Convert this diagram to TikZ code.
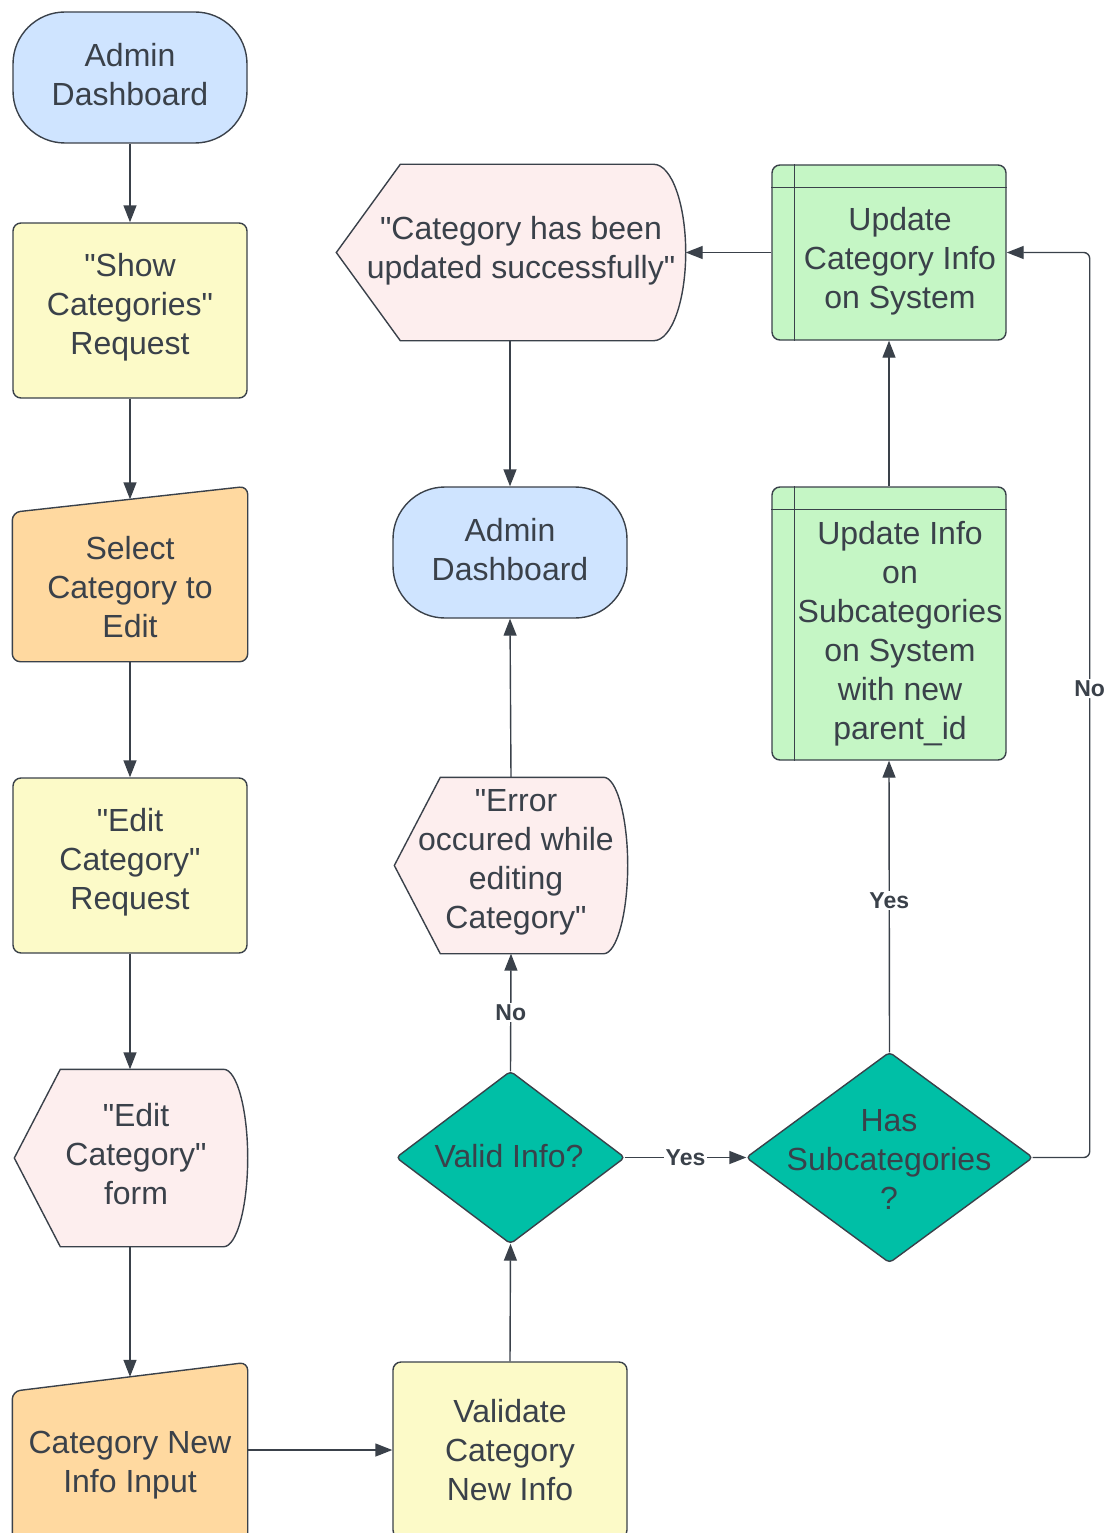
\documentclass[tikz,border=0pt]{standalone}
\usepackage{fontspec}
\setmainfont{Liberation Sans}[Ligatures=TeXOff]
\usetikzlibrary{arrows.meta}
\definecolor{ink}{HTML}{3A414A}
\definecolor{termblue}{HTML}{CFE4FF}
\definecolor{procyellow}{HTML}{FCFAC8}
\definecolor{inorange}{HTML}{FFD9A0}
\definecolor{disppink}{HTML}{FDEEEE}
\definecolor{storegreen}{HTML}{C5F6C5}
\definecolor{decteal}{HTML}{00BFA6}
\begin{document}
\begin{tikzpicture}[x=1pt,y=-1pt,
  line width=1.4pt,
  frame/.style={draw=none, inner sep=0, minimum width=#1},
  txt/.style={font=\fontsize{32}{39}\selectfont, text=ink, align=center, inner sep=0, yshift=-3pt},
  term/.style={draw=ink, fill=termblue, rounded corners=52, inner sep=0},
  proc/.style={draw=ink, fill=procyellow, rounded corners=8, inner sep=0},
  store/.style={draw=ink, fill=storegreen, rounded corners=8, inner sep=0},
  inshape/.style={draw=ink, fill=inorange, rounded corners=8},
  disp/.style={draw=ink, fill=disppink},
  dec/.style={draw=ink, fill=decteal, rounded corners=4},
  arr/.style={draw=ink, -{Triangle[length=17pt,width=13pt]}},
  lbl/.style={font=\bfseries\fontsize{23}{26}\selectfont, text=ink, fill=white, inner sep=1.5pt}
]
\useasboundingbox (0,0) rectangle (1111,1533);

% ---------- left column ----------
\node[term, minimum width=234, minimum height=131] (ad1) at (130,77.5) {};
\node[txt] (ad1t) at (130,71.5) {Admin\\Dashboard};

\node[proc, minimum width=234, minimum height=175] (show) at (130,310.5) {};
\node[txt] (showt) at (130,304) {"Show\\Categories"\\Request};

\node[frame=234, minimum height=161] (sel) at (130,580.5) {};
\draw[inshape] ([shift={(0,13)}]sel.north west) -- ([shift={(0,-13)}]sel.north east)
  -- (sel.south east) -- (sel.south west) -- cycle;
\node[txt] (selt) at (130,584.5) {Select\\Category to\\Edit};

\node[proc, minimum width=234, minimum height=175] (editreq) at (130,865.5) {};
\node[txt] (editreqt) at (130,859) {"Edit\\Category"\\Request};

\node[frame=232, minimum height=176] (form) at (131,1158) {};
\draw[disp] (form.west) -- ([shift={(46,0)}]form.north west) -- ([shift={(-24,0)}]form.north east)
  .. controls ([shift={(-11,0)}]form.north east) and ([shift={(0,-49)}]form.east) .. (form.east)
  .. controls ([shift={(0,49)}]form.east) and ([shift={(-11,0)}]form.south east) .. ([shift={(-24,0)}]form.south east)
  -- ([shift={(46,0)}]form.south west) -- cycle;
\node[txt] (formt) at (136,1151) {"Edit\\Category"\\form};

\node[frame=234, minimum height=165] (inp) at (130,1460) {};
\draw[inshape] ([shift={(0,14.5)}]inp.north west) -- ([shift={(0,-14.5)}]inp.north east)
  -- (inp.south east) -- (inp.south west) -- cycle;
\node[txt] (inpt) at (130,1462) {Category New\\Info Input};

% ---------- middle column ----------
\node[proc, minimum width=234, minimum height=176] (val) at (510,1450) {};
\node[txt] (valt) at (510,1447) {Validate\\Category\\New Info};

\node[frame=227, minimum height=171] (valid) at (510.5,1157.5) {};
\draw[dec] (valid.north) -- (valid.east) -- (valid.south) -- (valid.west) -- cycle;
\node[txt] (validt) at (509,1153) {Valid Info?};

\node[frame=232, minimum height=175] (err) at (511,865.5) {};
\draw[disp] (err.west) -- ([shift={(46,0)}]err.north west) -- ([shift={(-24,0)}]err.north east)
  .. controls ([shift={(-11,0)}]err.north east) and ([shift={(0,-48)}]err.east) .. (err.east)
  .. controls ([shift={(0,48)}]err.east) and ([shift={(-11,0)}]err.south east) .. ([shift={(-24,0)}]err.south east)
  -- ([shift={(46,0)}]err.south west) -- cycle;
\node[txt] (errt) at (516,859.5) {"Error\\occured while\\editing\\Category"};

\node[term, minimum width=234, minimum height=131] (ad2) at (510,552.5) {};
\node[txt] (ad2t) at (510,546.5) {Admin\\Dashboard};

\node[frame=348, minimum height=175] (succ) at (511,252.5) {};
\draw[disp] (succ.west) -- ([shift={(64,0)}]succ.north west) -- ([shift={(-32,0)}]succ.north east)
  .. controls ([shift={(-14,0)}]succ.north east) and ([shift={(0,-48)}]succ.east) .. (succ.east)
  .. controls ([shift={(0,48)}]succ.east) and ([shift={(-14,0)}]succ.south east) .. ([shift={(-32,0)}]succ.south east)
  -- ([shift={(64,0)}]succ.south west) -- cycle;
\node[txt] (succt) at (521,247.5) {"Category has been\\updated successfully"};

% ---------- right column ----------
\node[store, minimum width=234, minimum height=175] (ucat) at (889,252.5) {};
\draw[draw=ink] ([shift={(23,0)}]ucat.north west) -- ([shift={(23,0)}]ucat.south west);
\draw[draw=ink] ([shift={(0,23)}]ucat.north west) -- ([shift={(0,23)}]ucat.north east);
\node[txt] (ucatt) at (900,258) {Update\\Category Info\\on System};

\node[store, minimum width=234, minimum height=273] (usub) at (889,623.5) {};
\draw[draw=ink] ([shift={(23,0)}]usub.north west) -- ([shift={(23,0)}]usub.south west);
\draw[draw=ink] ([shift={(0,23)}]usub.north west) -- ([shift={(0,23)}]usub.north east);
\node[txt] (usubt) at (900,630.5) {Update Info\\on\\Subcategories\\on System\\with new\\parent\_id};

\node[frame=285, minimum height=209] (hassub) at (889.5,1157.5) {};
\draw[dec] (hassub.north) -- (hassub.east) -- (hassub.south) -- (hassub.west) -- cycle;
\node[txt] (hassubt) at (889,1156) {Has\\Subcategories\\?};

% ---------- connectors ----------
\draw[arr] (ad1.south) -- (show.north);
\draw[arr] (show.south) -- (sel.north);
\draw[arr] (sel.south) -- (editreq.north);
\draw[arr] (editreq.south) -- (editreq.south |- form.north);
\draw[arr] (editreq.south |- form.south) -- (inp.north);
\draw[arr] (inp.east |- val.west) -- (val.west);
\draw[arr] (val.north) -- (valid.south);
\draw[arr] (valid.north) -- node[lbl] {No} (err.south);
\draw[arr] (err.north) -- (ad2.south);
\draw[arr] (succ.south -| ad2.north) -- (ad2.north);
\draw[arr] (valid.east) -- node[lbl] {Yes} (hassub.west);
\draw[arr] (hassub.north) -- node[lbl, pos=0.52] {Yes} (usub.south);
\draw[arr] (usub.north) -- (ucat.south);
\draw[arr] (ucat.west) -- (succ.east);
\draw[arr, rounded corners=6] (hassub.east) -- ++(57,0) |- node[lbl, pos=0.259] {No} (ucat.east);
\end{tikzpicture}
\end{document}
